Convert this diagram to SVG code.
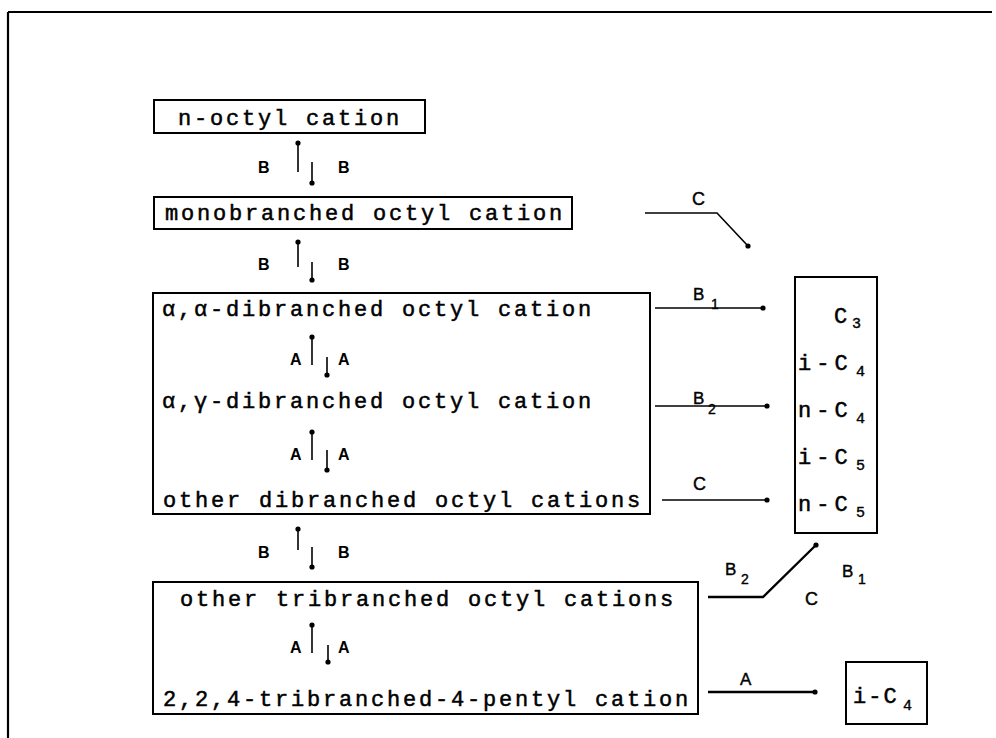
<svg xmlns="http://www.w3.org/2000/svg" width="996" height="738" viewBox="0 0 996 738">
<defs>
<marker id="dot" viewBox="0 0 6 6" refX="3" refY="3" markerWidth="6" markerHeight="6" markerUnits="userSpaceOnUse"><circle cx="3" cy="3" r="2.6" fill="#000"/></marker>
<style>
.box{fill:none;stroke:#000;stroke-width:2}
.t{font-family:"Liberation Mono","DejaVu Sans Mono",monospace;font-size:22px;letter-spacing:2.8px;fill:#000;stroke:#000;stroke-width:0.5}
.p{font-family:"Liberation Mono","DejaVu Sans Mono",monospace;font-size:22px;letter-spacing:5px;fill:#000;stroke:#000;stroke-width:0.5}
.sub{font-family:"Liberation Mono","DejaVu Sans Mono",monospace;font-size:15px;fill:#000;stroke:#000;stroke-width:0.4}
.lb{font-family:"Liberation Sans",Arial,sans-serif;font-size:16px;font-weight:bold;fill:#000}
.la{font-family:"Liberation Sans",Arial,sans-serif;font-size:16px;font-weight:bold;fill:#000}
.ll{font-family:"Liberation Sans",Arial,sans-serif;font-size:17px;fill:#000;stroke:#000;stroke-width:0.4}
.ls{font-family:"Liberation Sans",Arial,sans-serif;font-size:14px;fill:#000;stroke:#000;stroke-width:0.4}
.ca{fill:none;stroke:#000;stroke-width:1.6;marker-end:url(#dot)}
.cb{fill:none;stroke:#000;stroke-width:2.4;marker-end:url(#dot)}
</style>
</defs>
<rect width="996" height="738" fill="#fff"/>
<g id="frame"><path d="M8,12 H992 M8,12 V738" fill="none" stroke="#000" stroke-width="2.2"/></g>

<g id="n-octyl"><rect class="box" x="154" y="100" width="271" height="33"/><text class="t" x="178" y="125">n-octyl cation</text></g>
<g id="monobranched"><rect class="box" x="154" y="197" width="418" height="32"/><text class="t" x="165" y="220">monobranched octyl cation</text></g>
<g id="dibranched"><rect class="box" x="153" y="293" width="497" height="221"/>
<text class="t" x="162" y="316">α,α-dibranched octyl cation</text>
<text class="t" x="162" y="408">α,γ-dibranched octyl cation</text>
<text class="t" x="163" y="507">other dibranched octyl cations</text></g>
<g id="tribranched"><rect class="box" x="153" y="582" width="545" height="132"/>
<text class="t" x="180" y="606">other tribranched octyl cations</text>
<text class="t" x="163" y="706">2,2,4-tribranched-4-pentyl cation</text></g>
<g id="products"><rect class="box" x="795" y="277" width="82" height="256"/>
<text class="p" x="834" y="323">C</text><text class="sub" x="852" y="328">3</text>
<text class="p" x="798" y="370">i-C</text><text class="sub" x="856" y="376">4</text>
<text class="p" x="798" y="417">n-C</text><text class="sub" x="856" y="423">4</text>
<text class="p" x="798" y="464">i-C</text><text class="sub" x="856" y="470">5</text>
<text class="p" x="798" y="511">n-C</text><text class="sub" x="856" y="517">5</text></g>
<g id="isobutane"><rect class="box" x="846" y="662" width="81" height="62"/>
<text class="t" style="letter-spacing:2px" x="853" y="703">i-C</text><text class="sub" x="903" y="710">4</text></g>

<g id="connectors">
<path class="ca" d="M298,172 V143"/><path class="ca" d="M312,162 V183"/>
<path class="ca" d="M298,267 V242"/><path class="ca" d="M312,262 V280"/>
<path class="ca" d="M298,550 V529"/><path class="ca" d="M312,547 V567"/>
<path class="ca" d="M312,365 V337"/><path class="ca" d="M327,357 V375"/>
<path class="ca" d="M312,460 V432"/><path class="ca" d="M327,450 V470"/>
<path class="ca" d="M312,653 V625"/><path class="ca" d="M328,645 V662"/>
<path class="ca" d="M645,213 H717 L748,246"/>
<path class="ca" d="M655,308 H763"/>
<path class="ca" d="M655,406 H767"/>
<path class="ca" d="M662,500 H767"/>
<path class="cb" d="M708,597 H763 L816,545"/>
<path class="cb" d="M708,692 H815"/>
</g>
<g id="labels">
<text class="lb" x="258" y="173">B</text><text class="lb" x="338" y="173">B</text>
<text class="lb" x="258" y="270">B</text><text class="lb" x="338" y="270">B</text>
<text class="lb" x="258" y="558">B</text><text class="lb" x="338" y="558">B</text>
<text class="la" x="290" y="365">A</text><text class="la" x="338" y="365">A</text>
<text class="la" x="290" y="460">A</text><text class="la" x="338" y="460">A</text>
<text class="la" x="290" y="653">A</text><text class="la" x="338" y="653">A</text>
<text class="ll" style="font-size:18px" x="692" y="205">C</text>
<text class="ll" x="693" y="300">B</text><text class="ls" x="711" y="309">1</text>
<text class="ll" x="693" y="404">B</text><text class="ls" x="708" y="414">2</text>
<text class="ll" style="font-size:18px" x="693" y="490">C</text>
<text class="ll" x="725" y="575">B</text><text class="ls" x="741" y="584">2</text>
<text class="ll" x="842" y="577">B</text><text class="ls" x="858" y="584">1</text>
<text class="ll" style="font-size:18px" x="805" y="605">C</text>
<text class="ll" x="740" y="685">A</text>
</g>
</svg>
